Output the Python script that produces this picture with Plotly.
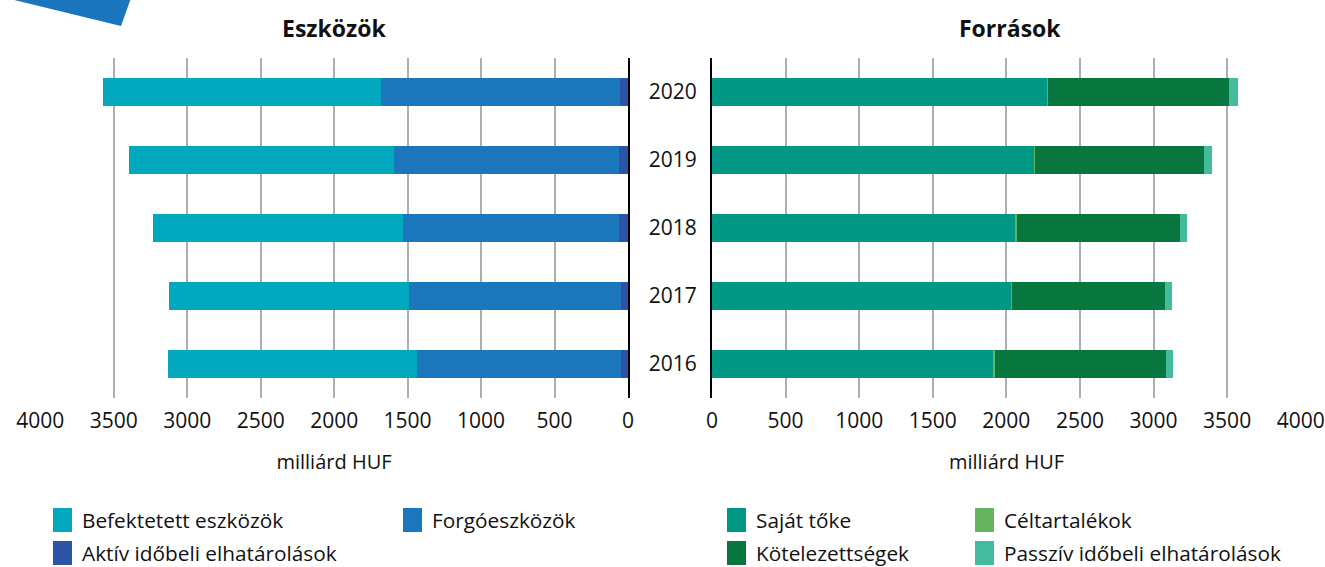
# Eszközök / Források - mérleg szerkezete, 2016-2020
import plotly.graph_objects as go

# Data (milliárd HUF)
years = ['2016', '2017', '2018', '2019', '2020']

befektetett = [1697, 1634, 1701, 1804, 1893]
forgo = [1387, 1443, 1471, 1531, 1626]
aktiv = [49, 49, 63, 63, 56]

sajat = [1916, 2033, 2060, 2189, 2277]
celtartalek = [5, 5, 10, 7, 5]
kotelezettseg = [1165, 1043, 1111, 1148, 1232]
passziv = [46, 44, 49, 56, 59]

x_ticks = [0, 500, 1000, 1500, 2000, 2500, 3000, 3500, 4000]

# Page geometry (pixels)
W, H = 1325, 567
ML, MR, MT, MB = 40, 24, 58, 169
PW = W - ML - MR
PH = H - MT - MB
FONT = "Open Sans"


def px(x):
    return (x - ML) / PW


def py(y):
    return (H - MB - y) / PH


fig = go.Figure()

# left chart: stacked from the axis outwards
left = [
    ("Aktív időbeli elhatárolások", aktiv, "#2b54a4"),
    ("Forgóeszközök", forgo, "#1c76bc"),
    ("Befektetett eszközök", befektetett, "#02a8bd"),
]
for name, vals, col in left:
    fig.add_trace(go.Bar(y=years, x=vals, name=name, orientation='h',
                         marker=dict(color=col, line=dict(width=0)),
                         xaxis='x', yaxis='y', showlegend=False))

right = [
    ("Saját tőke", sajat, "#009784"),
    ("Céltartalékok", celtartalek, "#66b45f"),
    ("Kötelezettségek", kotelezettseg, "#08773f"),
    ("Passzív időbeli elhatárolások", passziv, "#43bc9d"),
]
for name, vals, col in right:
    fig.add_trace(go.Bar(y=years, x=vals, name=name, orientation='h',
                         marker=dict(color=col, line=dict(width=0)),
                         xaxis='x2', yaxis='y2', showlegend=False))

xcommon = dict(
    tickvals=x_ticks, showgrid=True, gridcolor="#adadb2", gridwidth=1.5,
    zeroline=False, showline=False, ticks="", ticklabelstandoff=8,
    tickfont=dict(size=21, color="#111"), automargin=False,
    title=dict(text="milliárd HUF", font=dict(size=20, color="#111"), standoff=21),
)
ycommon = dict(
    type='category', categoryorder='array', categoryarray=years,
    range=[-0.5, 4.5], showgrid=False, zeroline=False, automargin=False,
    showline=True, linecolor="black", linewidth=2, ticks="",
)

fig.update_layout(
    width=W, height=H,
    margin=dict(l=ML, r=MR, t=MT, b=MB),
    paper_bgcolor="white", plot_bgcolor="white",
    font=dict(family=FONT, color="#111"),
    barmode='stack', bargap=0.58,
    xaxis=dict(domain=[0, px(628)], range=[4002, 0], anchor='y', **xcommon),
    xaxis2=dict(domain=[px(712), 1], range=[0, 4002], anchor='y2', **xcommon),
    yaxis=dict(anchor='x', side='right', showticklabels=False, **ycommon),
    yaxis2=dict(anchor='x2', side='left', showticklabels=True,
                tickfont=dict(size=21, color="#111"), ticklabelstandoff=9,
                **ycommon),
)

# panel titles
for txt, xc in [("Eszközök", 334), ("Források", 1010)]:
    fig.add_annotation(text="<b>%s</b>" % txt, x=px(xc), y=py(28),
                       xref='paper', yref='paper', showarrow=False,
                       xanchor='center', yanchor='middle',
                       font=dict(size=23, color="#111", family=FONT))

# corner decoration
fig.add_shape(type='path', xref='paper', yref='paper',
              path="M %f,%f L %f,%f L %f,%f Z" % (px(6), py(-2), px(121), py(26), px(131), py(-2)),
              fillcolor="#1b75bc", line=dict(width=0))

# legends drawn by hand (large swatches)
legend_pos = [
    (left[2], 53, 520), (left[1], 403, 520), (left[0], 53, 553),
    (right[0], 727, 520), (right[1], 975, 520), (right[2], 727, 553), (right[3], 975, 553),
]
for (name, _, col), lx, ly in legend_pos:
    fig.add_shape(type='rect', xref='paper', yref='paper',
                  x0=px(lx), x1=px(lx + 19), y0=py(ly - 12), y1=py(ly + 12),
                  fillcolor=col, line=dict(width=0))
    fig.add_annotation(text=name, x=px(lx + 27), y=py(ly), xref='paper', yref='paper',
                       showarrow=False, xanchor='left', yanchor='middle',
                       font=dict(size=20.8, color="#111", family=FONT))

# page body margin off so the figure sits at the window corner
fig.write_html("out.html", config={"displayModeBar": False},
               post_script="document.body.style.margin='0px';")
